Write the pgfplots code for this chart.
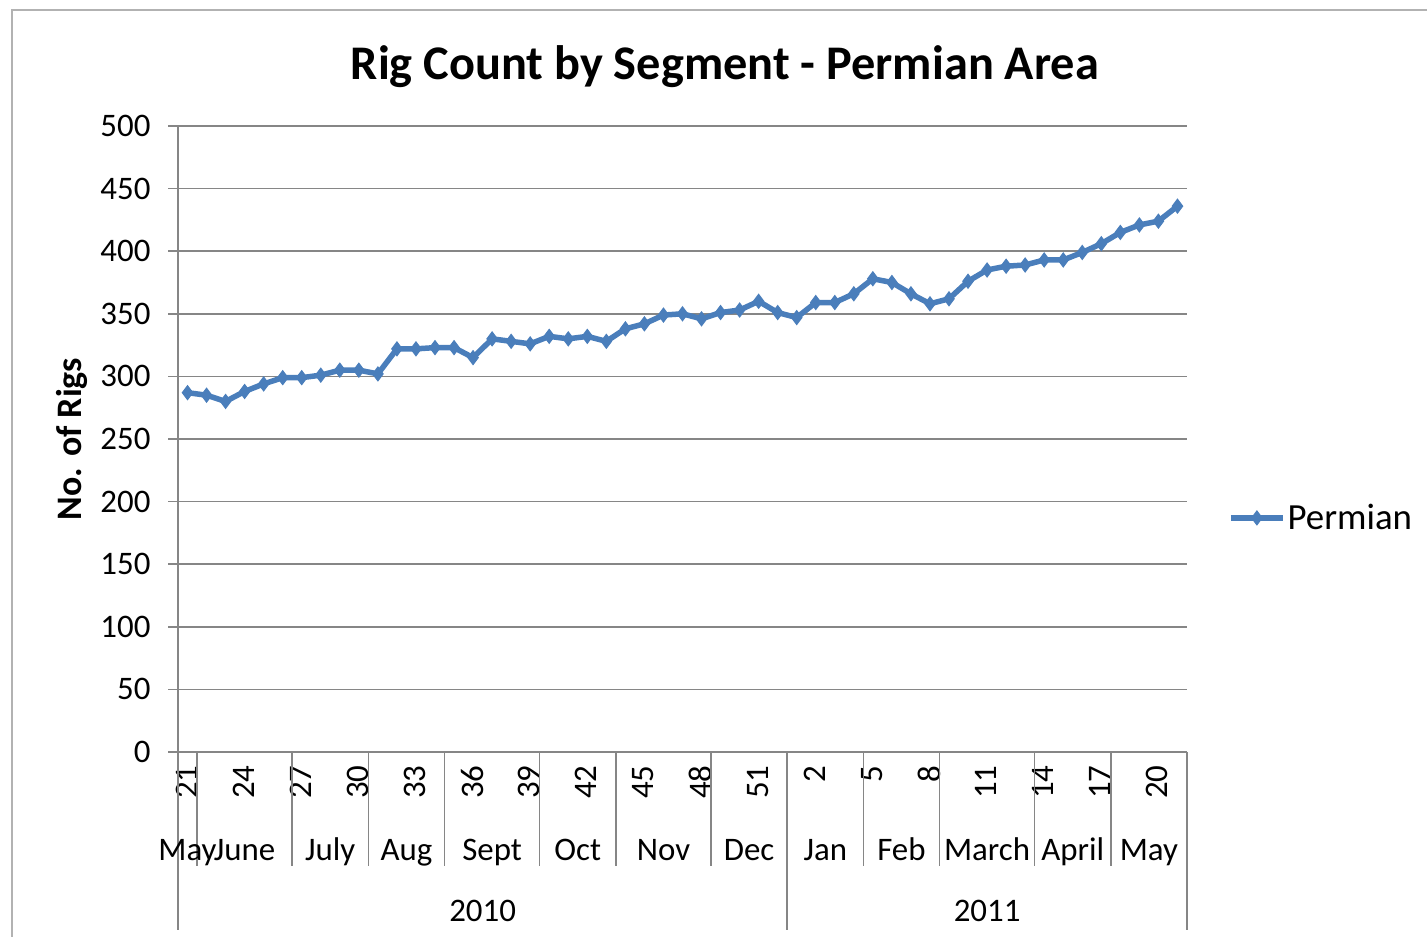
\documentclass[border=0pt]{standalone}
\usepackage{pgfplots}
\pgfplotsset{compat=1.18}
\usepackage{fontspec}
\setmainfont{Carlito}
\definecolor{serblue}{RGB}{74,126,187}
\definecolor{gridgray}{RGB}{134,134,134}
\pgfplotstableread{
i v
0 287
1 285
2 280
3 288
4 294
5 299
6 299
7 301
8 305
9 305
10 302
11 322
12 322
13 323
14 323
15 315
16 330
17 328
18 326
19 332
20 330
21 332
22 328
23 338
24 342
25 349
26 350
27 346
28 351
29 353
30 360
31 351
32 347
33 359
34 359
35 366
36 378
37 375
38 366
39 358
40 362
41 376
42 385
43 388
44 389
45 393
46 393
47 399
48 406
49 415
50 421
51 424
52 436
}\permian
\begin{document}
\begin{tikzpicture}
\useasboundingbox (0,0) rectangle (1427bp,-937bp);
\draw[color=gray!60, line width=2bp] (12bp,-937bp) -- (12bp,-10bp) -- (1427bp,-10bp);
\begin{axis}[
  at={(178bp,-752bp)}, anchor=south west,
  scale only axis, width=1009bp, height=626bp,
  xmin=-0.5, xmax=52.5, ymin=0, ymax=500,
  axis lines*=left,
  axis line style={gridgray, line width=1.5bp},
  ytick={0,50,...,500},
  ymajorgrids,
  grid style={gridgray, line width=1.5bp},
  tick align=outside,
  major tick length=10bp,
  ytick style={gridgray, line width=1.5bp},
  xtick={0,3,...,51},
  xticklabels={21,24,27,30,33,36,39,42,45,48,51,2,5,8,11,14,17,20},
  xtick style={draw=none},
  xticklabel style={rotate=90, anchor=east, font=\fontsize{33}{38}\selectfont, yshift=1bp},
  yticklabel style={font=\fontsize{33}{38}\selectfont, xshift=-14bp},
  /pgf/number format/assume math mode=true,
  clip=false,
  title={Rig Count by Segment - Permian Area},
  title style={at={(axis description cs:0.542,1.086)}, anchor=center, font=\bfseries\fontsize{48.5}{58}\selectfont},
  ylabel={No. of Rigs},
  every axis y label/.style={at={(axis description cs:-0.105,0.5)}, rotate=90, anchor=center, font=\bfseries\fontsize{36}{43}\selectfont},
  legend style={at={(axis description cs:1.0406,0.374)}, anchor=west, draw=none, fill=none, font=\fontsize{37}{44}\selectfont, inner sep=0pt},
  legend image code/.code={\draw[#1, mark repeat=2, mark phase=2] plot coordinates {(0bp,0bp) (26bp,0bp) (52bp,0bp)};},
]
\addplot[color=serblue, line width=5.5bp, mark=diamond*, mark size=7bp, mark options={solid, line width=1bp}] table[x=i,y=v]{\permian};
\addlegendentry{Permian}
\pgfplotsinvokeforeach{0.5,5.5,9.5,13.5,18.5,22.5,27.5,35.5,39.5,44.5,48.5}{\draw[gridgray, line width=1.5bp] (axis cs:#1,0) -- (axis cs:#1,-91);}
\pgfplotsinvokeforeach{-0.5,31.5,52.5}{\draw[gridgray, line width=1.5bp] (axis cs:#1,0) -- (axis cs:#1,-142);}
\begin{scope}[every node/.style={font=\fontsize{33}{38}\selectfont, anchor=base}]
\node at (axis cs:0,-86.3) {May};
\node at (axis cs:3,-86.3) {June};
\node at (axis cs:7.5,-86.3) {July};
\node at (axis cs:11.5,-86.3) {Aug};
\node at (axis cs:16,-86.3) {Sept};
\node at (axis cs:20.5,-86.3) {Oct};
\node at (axis cs:25,-86.3) {Nov};
\node at (axis cs:29.5,-86.3) {Dec};
\node at (axis cs:33.5,-86.3) {Jan};
\node at (axis cs:37.5,-86.3) {Feb};
\node at (axis cs:42,-86.3) {March};
\node at (axis cs:46.5,-86.3) {April};
\node at (axis cs:50.5,-86.3) {May};
\node at (axis cs:15.5,-135) {2010};
\node at (axis cs:42,-135) {2011};
\end{scope}
\end{axis}
\end{tikzpicture}
\end{document}
